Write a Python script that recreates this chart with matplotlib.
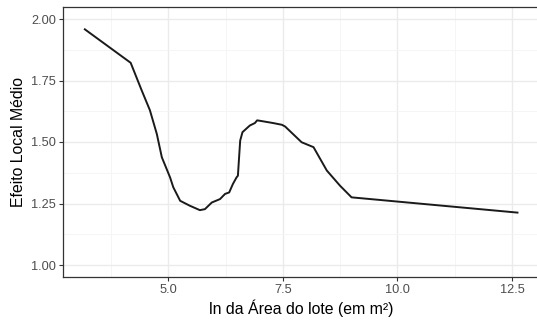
import numpy as np
import matplotlib
matplotlib.use('Agg')
import matplotlib.pyplot as plt
from matplotlib.ticker import FixedLocator

# ALE curve
lot_area_ln = [3.18, 4.18, 4.42, 4.60, 4.75, 4.86, 5.04, 5.11, 5.26, 5.47,
               5.69, 5.80, 5.95, 6.13, 6.24, 6.33, 6.41, 6.49, 6.52, 6.55,
               6.57, 6.62, 6.78, 6.89, 6.94, 7.04, 7.29, 7.48, 7.55, 7.91,
               8.17, 8.46, 8.75, 9.00, 12.62]
ale_effect = [1.958, 1.822, 1.710, 1.629, 1.533, 1.438, 1.356, 1.316, 1.261, 1.241,
              1.223, 1.227, 1.254, 1.268, 1.289, 1.295, 1.329, 1.356, 1.363, 1.45,
              1.506, 1.540, 1.567, 1.577, 1.588, 1.585, 1.577, 1.570, 1.563, 1.499,
              1.479, 1.384, 1.322, 1.275, 1.213]

x_major = [5.0, 7.5, 10.0, 12.5]
x_minor = [3.75, 6.25, 8.75, 11.25]
y_major = [1.00, 1.25, 1.50, 1.75, 2.00]
y_minor = [1.125, 1.375, 1.625, 1.875]

plt.rcParams['font.family'] = ['Liberation Sans', 'DejaVu Sans']

fig = plt.figure(figsize=(5.37, 3.22), dpi=100)
# panel runs past the right edge, as in the reference (right border cut off)
ax = fig.add_axes([63.3 / 537, 1 - 277.3 / 322, (539 - 63.3) / 537, (277.3 - 6.7) / 322])

ax.plot(lot_area_ln, ale_effect, color='#1a1a1a', linewidth=1.4, solid_joinstyle='round')

ax.set_xlim(2.71, 13.09)
ax.set_ylim(0.95, 2.05)
ax.xaxis.set_major_locator(FixedLocator(x_major))
ax.xaxis.set_minor_locator(FixedLocator(x_minor))
ax.yaxis.set_major_locator(FixedLocator(y_major))
ax.yaxis.set_minor_locator(FixedLocator(y_minor))
ax.set_xticklabels([f'{v:.1f}' for v in x_major])
ax.set_yticklabels([f'{v:.2f}' for v in y_major])

ax.grid(which='major', color='#ebebeb', linewidth=1.0)
ax.grid(which='minor', color='#f4f4f4', linewidth=0.6)
ax.set_axisbelow(True)

for s in ax.spines.values():
    s.set_color('#333333')
    s.set_linewidth(0.9)

ax.tick_params(which='major', length=3, width=0.8, color='#333333',
               labelsize=9.2, labelcolor='#4d4d4d', pad=2)
ax.tick_params(which='minor', length=0)

ax.set_xlabel('ln da Área do lote (em m²)', fontsize=11.4, color='black', labelpad=2)
ax.set_ylabel('Efeito Local Médio', fontsize=11.4, color='black', labelpad=4)

fig.savefig('out.png', dpi=100)
